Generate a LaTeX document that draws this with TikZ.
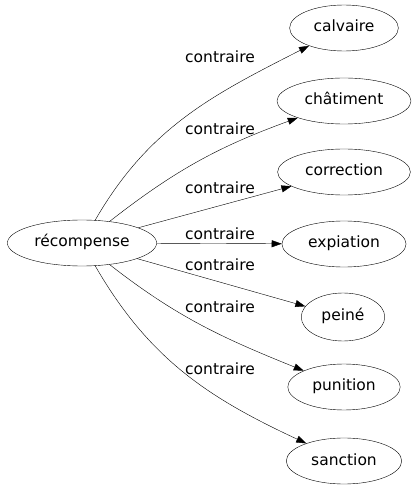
\documentclass[tikz,border=0pt]{standalone}
\usepackage{fontspec}
\setmainfont{DejaVu Sans}
\usetikzlibrary{arrows.meta, shapes.geometric}

\begin{document}
\begin{tikzpicture}[
    x = 1pt, y = 1pt,
    every node/.style = {font = \fontsize{15.5}{18}\selectfont},
    word/.style = {draw, ellipse, minimum height = 46pt, inner xsep = 8pt,
                   text height = 11pt, text depth = 3pt},
    rel/.style = {-{Triangle[length = 10pt, width = 7pt]}},
    lab/.style = {inner sep = 1pt}]

\useasboundingbox (0,0) rectangle (420,491);

\path (82,248)  node[word, inner xsep = 5pt] (recompense) {récompense}
      (344,463) node[word] (calvaire) {calvaire}
      (344,390) node[word] (chatiment) {châtiment}
      (344,319) node[word] (correction) {correction}
      (344,247) node[word] (expiation) {expiation}
      (343,174) node[word, minimum height = 48pt] (peine) {peiné}
      (344,104) node[word] (punition) {punition}
      (344,30)  node[word] (sanction) {sanction};

\path (220,434) node[lab] (c1) {contraire}
      (220,362) node[lab] (c2) {contraire}
      (220,303) node[lab] (c3) {contraire}
      (220,257) node[lab] (c4) {contraire}
      (220,226) node[lab] (c5) {contraire}
      (220,184) node[lab] (c6) {contraire}
      (220,122) node[lab] (c7) {contraire};

\draw[rel] (recompense) to[out = 60, in = 207] (calvaire);
\draw[rel] (recompense) to[out = 38, in = 200] (chatiment);
\draw[rel] (recompense) -- (correction);
\draw[rel] (recompense) -- (expiation);
\draw[rel] (recompense) -- (peine);
\draw[rel] (recompense) to[out = -38, in = 158] (punition);
\draw[rel] (recompense) to[out = -60, in = 155] (sanction);
\end{tikzpicture}
\end{document}
